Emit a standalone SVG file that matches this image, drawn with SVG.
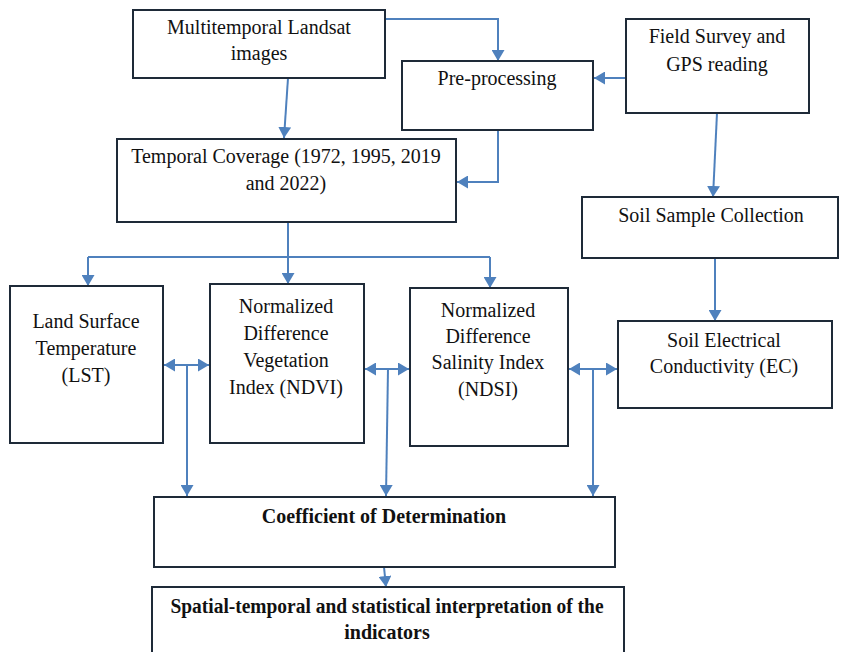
<svg xmlns="http://www.w3.org/2000/svg" width="841" height="652" viewBox="0 0 841 652">
<defs>
<style>
.box{fill:#ffffff;stroke:#1e2a38;stroke-width:2}
.t{font-family:"Liberation Serif","Times New Roman",serif;font-size:20px;fill:#111;text-anchor:middle}
.b{font-weight:bold}
.c{fill:none;stroke:#4f81bd;stroke-width:2}
</style>
<marker id="ah" viewBox="0 0 11 13" refX="11" refY="6.5" markerWidth="11" markerHeight="13" markerUnits="userSpaceOnUse" orient="auto-start-reverse">
<path d="M0,0 L11,6.5 L0,13 z" fill="#4f81bd"/>
</marker>
</defs>
<rect width="841" height="652" fill="#ffffff"/>
<g id="connectors">
<path class="c" d="M385,19 H498 V61" marker-end="url(#ah)"/>
<path class="c" d="M626,78 H594" marker-end="url(#ah)"/>
<path class="c" d="M288,78 L284,138" marker-end="url(#ah)"/>
<path class="c" d="M498,130 V182 H457" marker-end="url(#ah)"/>
<path class="c" d="M717,113 L713,197" marker-end="url(#ah)"/>
<path class="c" d="M715,258 V321" marker-end="url(#ah)"/>
<path class="c" d="M288,222 V284" marker-end="url(#ah)"/>
<path class="c" d="M88,257 H490"/>
<path class="c" d="M88,257 V286" marker-end="url(#ah)"/>
<path class="c" d="M490,257 V288" marker-end="url(#ah)"/>
<path class="c" d="M164,365 H209" marker-start="url(#ah)" marker-end="url(#ah)"/>
<path class="c" d="M187,365 V496" marker-end="url(#ah)"/>
<path class="c" d="M365,369 H409" marker-start="url(#ah)" marker-end="url(#ah)"/>
<path class="c" d="M388,369 L386,496" marker-end="url(#ah)"/>
<path class="c" d="M569,369 H617" marker-start="url(#ah)" marker-end="url(#ah)"/>
<path class="c" d="M593,369 V496" marker-end="url(#ah)"/>
<path class="c" d="M384,567 L386,587" marker-end="url(#ah)"/>
</g>
<g id="landsat">
<rect class="box" x="133" y="10" width="252" height="68"/>
<text class="t" x="259" y="34">Multitemporal Landsat</text>
<text class="t" x="259" y="60">images</text>
</g>
<g id="preprocessing">
<rect class="box" x="402" y="61" width="191" height="69"/>
<text class="t" x="497" y="85">Pre-processing</text>
</g>
<g id="field">
<rect class="box" x="626" y="19" width="183" height="94"/>
<text class="t" x="717" y="43">Field Survey and</text>
<text class="t" x="717" y="71">GPS reading</text>
</g>
<g id="temporal">
<rect class="box" x="117" y="139" width="339" height="83"/>
<text class="t" x="286" y="163">Temporal Coverage (1972, 1995, 2019</text>
<text class="t" x="286" y="190">and 2022)</text>
</g>
<g id="soilsample">
<rect class="box" x="582" y="197" width="256" height="61"/>
<text class="t" x="711" y="222">Soil Sample Collection</text>
</g>
<g id="ec">
<rect class="box" x="618" y="321" width="214" height="87"/>
<text class="t" x="724" y="347">Soil Electrical</text>
<text class="t" x="724" y="373">Conductivity (EC)</text>
</g>
<g id="lst">
<rect class="box" x="10" y="286" width="153" height="157"/>
<text class="t" x="86" y="328">Land Surface</text>
<text class="t" x="86" y="355">Temperature</text>
<text class="t" x="86" y="382">(LST)</text>
</g>
<g id="ndvi">
<rect class="box" x="210" y="284" width="154" height="159"/>
<text class="t" x="286" y="313">Normalized</text>
<text class="t" x="286" y="340">Difference</text>
<text class="t" x="286" y="367">Vegetation</text>
<text class="t" x="286" y="394">Index (NDVI)</text>
</g>
<g id="ndsi">
<rect class="box" x="410" y="288" width="158" height="158"/>
<text class="t" x="488" y="317">Normalized</text>
<text class="t" x="488" y="343">Difference</text>
<text class="t" x="488" y="369">Salinity Index</text>
<text class="t" x="488" y="396">(NDSI)</text>
</g>
<g id="coefficient">
<rect class="box" x="154" y="497" width="461" height="70"/>
<text class="t b" x="384" y="523">Coefficient of Determination</text>
</g>
<g id="interpretation">
<rect class="box" x="152" y="587" width="472" height="80"/>
<text class="t b" x="387" y="613" textLength="433" lengthAdjust="spacingAndGlyphs">Spatial-temporal and statistical interpretation of the</text>
<text class="t b" x="387" y="639">indicators</text>
</g>
</svg>
